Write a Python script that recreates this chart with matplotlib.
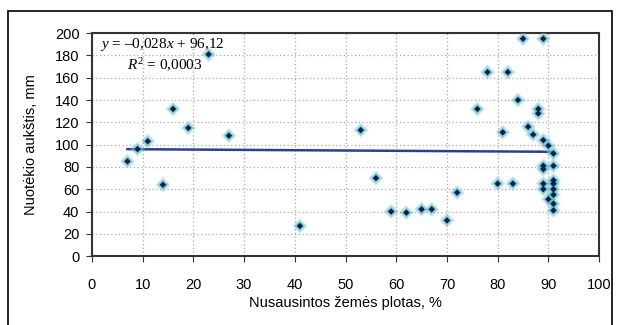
import matplotlib
matplotlib.use('Agg')
import matplotlib.pyplot as plt
from matplotlib.patches import Rectangle
import numpy as np

# drained land share (%) and runoff depth (mm)
drained = [7, 9, 11, 14, 16, 19, 23, 27, 41, 53, 56, 59, 62, 65, 67, 70, 72,
           76, 78, 80, 81, 82, 83, 84, 85, 86, 87, 88, 88, 89, 89, 90, 91,
           89, 91, 89, 91, 89, 91, 89, 91, 90, 91, 91, 91]
runoff = [85, 96, 103, 64, 132, 115, 181, 108, 27, 113, 70, 40, 39, 42, 42, 32, 57,
          132, 165, 65, 111, 165, 65, 140, 195, 116, 109, 132, 128, 195, 104, 99, 92,
          81, 81, 78, 68, 65, 65, 60, 60, 51, 55, 47, 41]

# linear trend as reported on the chart
slope = -0.028
intercept = 96.12
r2 = 0.0003

xticks = list(range(0, 101, 10))
yticks = list(range(0, 201, 20))

plt.rcParams['font.family'] = ['Liberation Sans', 'DejaVu Sans']
plt.rcParams['mathtext.fontset'] = 'custom'
plt.rcParams['mathtext.rm'] = 'Liberation Serif'
plt.rcParams['mathtext.it'] = 'Liberation Serif:italic'

fig = plt.figure(figsize=(6.17, 3.25), dpi=100)
ax = fig.add_axes([0.149, 0.212, 0.822, 0.686])

ax.scatter(drained, runoff, marker='D', s=60, color='#7ccbd6', alpha=0.4,
           edgecolors='none', zorder=3)
ax.scatter(drained, runoff, marker='D', s=32, color='#4fb3c4', alpha=0.5,
           edgecolors='none', zorder=3)
ax.scatter(drained, runoff, marker='D', s=11, color='#0d1f4a',
           edgecolors='none', zorder=4)

tx = np.array([min(drained), max(drained)])
ax.plot(tx, slope * tx + intercept, color='#2b3f8e', lw=1.8, zorder=2)

ax.set_xlim(0, 100)
ax.set_ylim(0, 200)
ax.set_xticks(xticks)
ax.set_yticks(yticks)
ax.grid(True, color='#a8a8a8', linestyle=(0, (1, 2)), linewidth=0.9)
ax.tick_params(axis='both', labelsize=10.5, length=4, color='#333333')
ax.tick_params(axis='x', pad=12)
ax.tick_params(axis='y', pad=5)
for s in ax.spines.values():
    s.set_color('#333333')
    s.set_linewidth(1.5)

ax.set_xlabel('Nusausintos žemės plotas, %', fontsize=10.5, labelpad=3)
ax.set_ylabel('Nuotėkio aukštis, mm', fontsize=10.5, labelpad=12)

ax.text(1.5, 190, r'$y$ = –0,028$x$ + 96,12', family='Liberation Serif',
        fontsize=11, va='center', ha='left', zorder=5)
ax.text(6.9, 171, r'$R^2$ = 0,0003', family='Liberation Serif',
        fontsize=11, va='center', ha='left', zorder=5)

# thin frame around the whole chart
fig.patches.append(Rectangle((8 / 617, -0.05), 604 / 617, 1 - 11 / 325 + 0.05,
                             transform=fig.transFigure, fill=False,
                             edgecolor='black', linewidth=1.2))

fig.savefig('out.png', dpi=100)
